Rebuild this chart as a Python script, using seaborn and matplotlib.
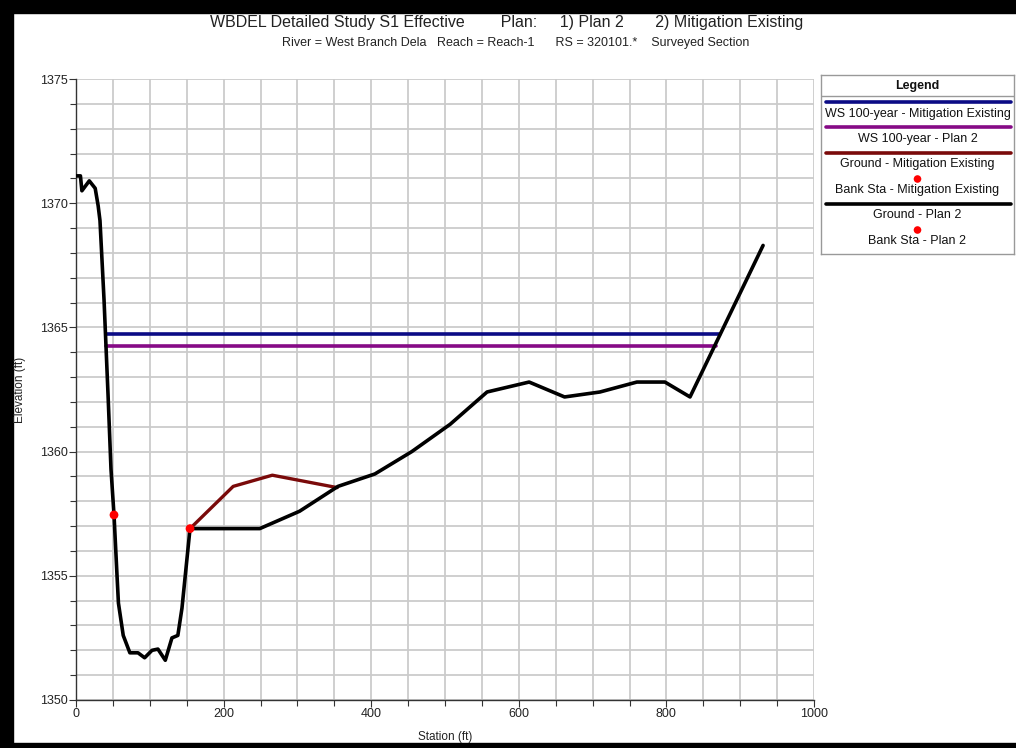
import matplotlib
matplotlib.use("Agg")
import matplotlib.pyplot as plt
import seaborn as sns
import numpy as np
from matplotlib.patches import Rectangle
from matplotlib.ticker import MultipleLocator

# ---------------- data ----------------
ground_sta = [0, 6, 8, 18, 26, 30, 32.5, 38, 43.4, 47.4, 51.5, 55.6, 57.5, 64, 73, 84, 93,
              103, 111, 121, 130, 138, 143.6, 154.5, 249, 303, 355, 405, 455, 507, 557,
              614, 662, 710, 760, 798, 832, 931]
ground_elev = [1371.1, 1371.1, 1370.5, 1370.9, 1370.6, 1369.9, 1369.3, 1366.1, 1362.3,
               1359.3, 1357.45, 1355.0, 1353.9, 1352.6, 1351.9, 1351.9, 1351.7, 1352.0,
               1352.05, 1351.6, 1352.5, 1352.6, 1353.7, 1356.9, 1356.9, 1357.6, 1358.6,
               1359.1, 1360.0, 1361.1, 1362.4, 1362.8, 1362.2, 1362.4, 1362.8, 1362.8,
               1362.2, 1368.3]
mitig_sta = [154.5, 213, 266, 354]
mitig_elev = [1356.9, 1358.6, 1359.05, 1358.55]
bank_sta = [51.5, 154.5]
bank_elev = [1357.45, 1356.9]
ws_mitig_sta = [40, 873]
ws_mitig_elev = [1364.72, 1364.72]
ws_plan2_sta = [41, 867]
ws_plan2_elev = [1364.27, 1364.27]

legend_labels = ["WS 100-year - Mitigation Existing", "WS 100-year - Plan 2",
                 "Ground - Mitigation Existing", "Bank Sta - Mitigation Existing",
                 "Ground - Plan 2", "Bank Sta - Plan 2"]

C_BLUE = "#0b0b85"
C_PURPLE = "#860a86"
C_MAROON = "#7a0a0a"
C_BLACK = "#000000"
C_RED = "#ff0000"

sns.set_style("white")
plt.rcParams["font.family"] = ["Liberation Sans", "DejaVu Sans"]

W, H = 1016, 748
fig = plt.figure(figsize=(W / 100, H / 100), dpi=100)
fig.patch.set_facecolor("white")

# black screenshot frame
fig.patches.append(Rectangle((0, 0), 13 / W, 1, transform=fig.transFigure, color="black", zorder=0))
fig.patches.append(Rectangle((0, 1 - 13 / H), 1, 13 / H, transform=fig.transFigure, color="black", zorder=0))
fig.patches.append(Rectangle((0, 0), 1, 5 / H, transform=fig.transFigure, color="black", zorder=0))

L, R, T, B = 76, 814, 79, 700
ax = fig.add_axes([L / W, (H - B) / H, (R - L) / W, (B - T) / H])

sns.lineplot(x=ws_mitig_sta, y=ws_mitig_elev, ax=ax, color=C_BLUE, lw=2.6, sort=False, estimator=None, zorder=3)
sns.lineplot(x=ws_plan2_sta, y=ws_plan2_elev, ax=ax, color=C_PURPLE, lw=2.6, sort=False, estimator=None, zorder=3)
sns.lineplot(x=mitig_sta, y=mitig_elev, ax=ax, color=C_MAROON, lw=2.4, sort=False, estimator=None, zorder=4)
sns.lineplot(x=ground_sta, y=ground_elev, ax=ax, color=C_BLACK, lw=2.6, sort=False, estimator=None, zorder=5)
sns.scatterplot(x=bank_sta, y=bank_elev, ax=ax, color=C_RED, s=40, edgecolor="none", zorder=6)

ax.set_xlim(0, 1000)
ax.set_ylim(1350, 1375)
ax.xaxis.set_major_locator(MultipleLocator(200))
ax.xaxis.set_minor_locator(MultipleLocator(50))
ax.yaxis.set_major_locator(MultipleLocator(5))
ax.yaxis.set_minor_locator(MultipleLocator(1))
ax.grid(True, which="both", color="#cbcbcb", lw=1.3, zorder=0)
ax.set_axisbelow(True)
for s in ["top", "right"]:
    ax.spines[s].set_visible(False)
for s in ["left", "bottom"]:
    ax.spines[s].set_color("#333333")
    ax.spines[s].set_linewidth(1.0)
ax.tick_params(which="major", direction="out", length=5, width=0.8, color="#333333",
               labelsize=9, labelcolor="#222222", pad=1, left=True, bottom=True)
ax.tick_params(which="minor", direction="out", length=4, width=0.8, color="#333333",
               left=True, bottom=True)
ax.set_xlabel("")
ax.set_ylabel("")

fig.text(445 / W, 1 - 737 / H, "Station (ft)", ha="center", va="center", fontsize=8.5, color="#222222")
fig.text(20 / W, 1 - 390 / H, "Elevation (ft)", ha="center", va="center", rotation=90,
         fontsize=8.5, color="#222222")

# titles
fig.text(507 / W, 1 - 23 / H,
         "WBDEL Detailed Study S1 Effective        Plan:     1) Plan 2       2) Mitigation Existing",
         ha="center", va="center", fontsize=11.5, color="#222222")
fig.text(516 / W, 1 - 43 / H,
         "River = West Branch Dela   Reach = Reach-1      RS = 320101.*    Surveyed Section",
         ha="center", va="center", fontsize=9, color="#222222")

# legend panel
lx0, ly0, lw_, lh_ = 821, 75, 193, 179
lax = fig.add_axes([lx0 / W, (H - ly0 - lh_) / H, lw_ / W, lh_ / H])
lax.set_xlim(0, lw_)
lax.set_ylim(lh_, 0)
lax.set_xticks([])
lax.set_yticks([])
for s in lax.spines.values():
    s.set_color("#999999")
    s.set_linewidth(1.0)
lax.text(lw_ / 2, 11, "Legend", ha="center", va="center", fontsize=9, fontweight="bold", color="#111111")
lax.plot([0, lw_], [21, 21], color="#999999", lw=1.0)

rows = [("line", C_BLUE, 27, 39), ("line", C_PURPLE, 52, 64), ("line", C_MAROON, 78, 89),
        ("dot", C_RED, 104, 115), ("line", C_BLACK, 129, 140), ("dot", C_RED, 155, 166)]
for (kind, col, ysym, ytxt), lab in zip(rows, legend_labels):
    if kind == "line":
        lax.plot([5, 190], [ysym, ysym], color=col, lw=2.6, solid_capstyle="round")
    else:
        lax.scatter([lw_ / 2], [ysym], color=col, s=30, edgecolor="none")
    lax.text(lw_ / 2, ytxt, lab, ha="center", va="center", fontsize=9, color="#111111")

fig.savefig("out.png", dpi=100)
